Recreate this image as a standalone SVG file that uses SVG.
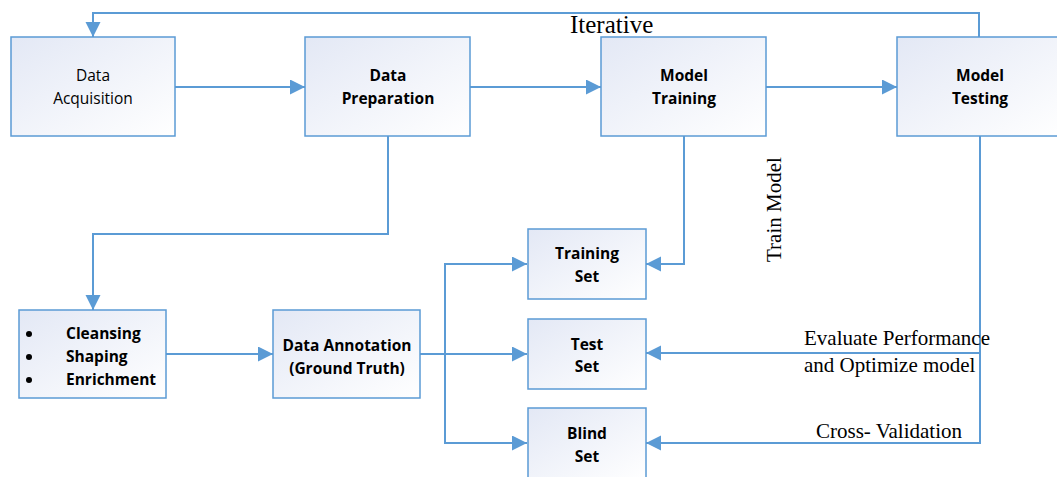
<svg xmlns="http://www.w3.org/2000/svg" width="1057" height="477" viewBox="0 0 1057 477">
<style>
.box{fill:url(#g);stroke:#5b9bd5;stroke-width:1.5}
.ln{fill:none;stroke:#5b9bd5;stroke-width:2}
.t{font-family:"Open Sans","Liberation Sans",sans-serif;font-size:15.5px;fill:#000;text-anchor:middle}
.b{font-weight:bold}
.s{font-family:"Liberation Serif","Times New Roman",serif;font-size:21px;fill:#000}
</style>
<defs>
<linearGradient id="g" x1="0" y1="0" x2="1" y2="1">
<stop offset="0" stop-color="#e3e8f5"/>
<stop offset="1" stop-color="#ffffff"/>
</linearGradient>
<marker id="a" markerUnits="userSpaceOnUse" markerWidth="16" markerHeight="16" refX="15" refY="7.5" orient="auto">
<path d="M0,0 L15,7.5 L0,15 z" fill="#5b9bd5"/>
</marker>
</defs>
<rect width="1057" height="477" fill="#fff"/>
<g id="connectors">
<polyline class="ln" points="979,37 979,13 93,13 93,37" marker-end="url(#a)"/>
<line class="ln" x1="175" y1="87" x2="305" y2="87" marker-end="url(#a)"/>
<line class="ln" x1="470" y1="87" x2="601" y2="87" marker-end="url(#a)"/>
<line class="ln" x1="766" y1="87" x2="897" y2="87" marker-end="url(#a)"/>
<polyline class="ln" points="388,136 388,234 93,234 93,310" marker-end="url(#a)"/>
<line class="ln" x1="166" y1="354" x2="273" y2="354" marker-end="url(#a)"/>
<line class="ln" x1="420" y1="354" x2="527" y2="354" marker-end="url(#a)"/>
<polyline class="ln" points="445,354 445,264 527,264" marker-end="url(#a)"/>
<polyline class="ln" points="445,354 445,443 527,443" marker-end="url(#a)"/>
<polyline class="ln" points="684,136 684,264 646,264" marker-end="url(#a)"/>
<polyline class="ln" points="980,136 980,443 646,443" marker-end="url(#a)"/>
<polyline class="ln" points="980,353 646,353" marker-end="url(#a)"/>
</g>
<g id="data-acquisition">
<rect class="box" x="11" y="37" width="164" height="99"/>
<text class="t" x="93" y="81">Data</text>
<text class="t" x="93" y="104">Acquisition</text>
</g>
<g id="data-preparation">
<rect class="box" x="305" y="37" width="165" height="99"/>
<text class="t b" x="388" y="81">Data</text>
<text class="t b" x="388" y="104">Preparation</text>
</g>
<g id="model-training">
<rect class="box" x="601" y="37" width="165" height="99"/>
<text class="t b" x="684" y="81">Model</text>
<text class="t b" x="684" y="104">Training</text>
</g>
<g id="model-testing">
<rect class="box" x="897" y="37" width="165" height="99"/>
<text class="t b" x="980" y="81">Model</text>
<text class="t b" x="980" y="104">Testing</text>
</g>
<g id="preparation-steps">
<rect class="box" x="19" y="310" width="147" height="88"/>
<circle cx="29" cy="334" r="3"/>
<circle cx="29" cy="357" r="3"/>
<circle cx="29" cy="380" r="3"/>
<text class="t b" x="66" y="339" text-anchor="start" style="text-anchor:start">Cleansing</text>
<text class="t b" x="66" y="362" style="text-anchor:start">Shaping</text>
<text class="t b" x="66" y="385" style="text-anchor:start">Enrichment</text>
</g>
<g id="data-annotation">
<rect class="box" x="273" y="310" width="147" height="88"/>
<text class="t b" x="347" y="351">Data Annotation</text>
<text class="t b" x="347" y="374">(Ground Truth)</text>
</g>
<g id="training-set">
<rect class="box" x="528" y="229" width="118" height="70"/>
<text class="t b" x="587" y="259">Training</text>
<text class="t b" x="587" y="282">Set</text>
</g>
<g id="test-set">
<rect class="box" x="528" y="319" width="118" height="70"/>
<text class="t b" x="587" y="350">Test</text>
<text class="t b" x="587" y="372">Set</text>
</g>
<g id="blind-set">
<rect class="box" x="528" y="408" width="118" height="72"/>
<text class="t b" x="587" y="439">Blind</text>
<text class="t b" x="587" y="462">Set</text>
</g>
<g id="labels">
<text class="s" x="570" y="33" style="font-size:25px">Iterative</text>
<text class="s" transform="translate(781,262) rotate(-90)">Train Model</text>
<text class="s" x="804" y="345">Evaluate Performance</text>
<text class="s" x="804" y="372">and Optimize model</text>
<text class="s" x="816" y="438">Cross- Validation</text>
</g>
</svg>
